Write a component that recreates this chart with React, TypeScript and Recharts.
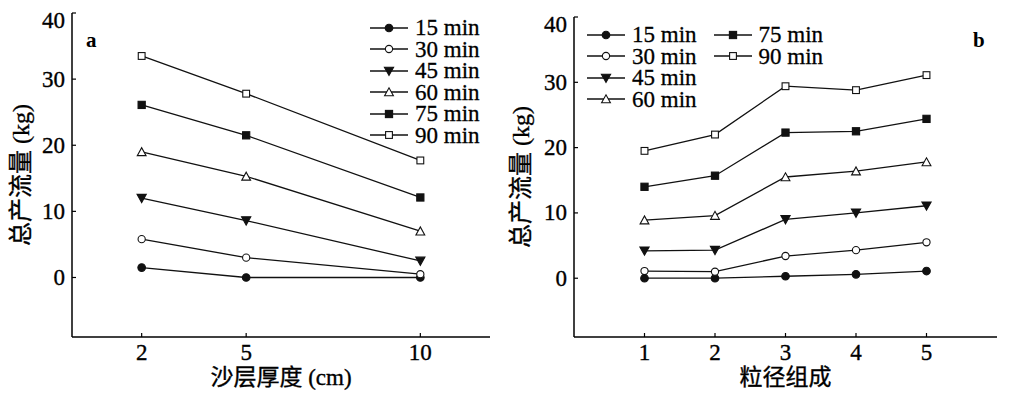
import React from "react";
import { LineChart, Line, XAxis, YAxis, Legend } from "recharts";

// series labels (shared by both panels)
const seriesNames = ["15 min", "30 min", "45 min", "60 min", "75 min", "90 min"];

// panel a: sand layer thickness (cm)
const thickness = [2, 5, 10];
const a15 = [1.5, 0, 0];
const a30 = [5.8, 3.0, 0.5];
const a45 = [12.0, 8.6, 2.5];
const a60 = [19.0, 15.3, 7.0];
const a75 = [26.1, 21.5, 12.1];
const a90 = [33.5, 27.8, 17.7];

// panel b: particle size composition
const grades = [1, 2, 3, 4, 5];
const b15 = [0.0, 0.0, 0.3, 0.6, 1.1];
const b30 = [1.1, 1.0, 3.4, 4.3, 5.5];
const b45 = [4.2, 4.3, 9.0, 10.0, 11.1];
const b60 = [8.9, 9.6, 15.5, 16.4, 17.8];
const b75 = [14.0, 15.7, 22.3, 22.5, 24.4];
const b90 = [19.5, 22.0, 29.4, 28.8, 31.1];

const yTicks = [0, 10, 20, 30, 40];
const thicknessTicks = [2, 5, 10];

const FONT = '"Liberation Serif", "Times New Roman", Times, "Noto Sans CJK SC", serif';
const INK = "#111";
const markerKinds = ["dotFilled", "dotOpen", "triDown", "triUp", "sqFilled", "sqOpen"];

const buildRows = (xs: number[], cols: number[][]) =>
  xs.map((x, i) => {
    const row: Record<string, number> = { x };
    cols.forEach((c, k) => (row["s" + k] = c[i]));
    return row;
  });

const dataA = buildRows(thickness, [a15, a30, a45, a60, a75, a90]);
const dataB = buildRows(grades, [b15, b30, b45, b60, b75, b90]);

const Marker = ({ kind, cx, cy }: { kind: string; cx: number; cy: number }) => {
  const sw = 1.1;
  switch (kind) {
    case "dotFilled":
      return <circle cx={cx} cy={cy} r={3.8} fill={INK} stroke={INK} strokeWidth={sw} />;
    case "dotOpen":
      return <circle cx={cx} cy={cy} r={3.6} fill="#fff" stroke={INK} strokeWidth={sw} />;
    case "triDown":
      return <path d={`M${cx - 4.6},${cy - 3.8}L${cx + 4.6},${cy - 3.8}L${cx},${cy + 4.4}Z`} fill={INK} stroke={INK} strokeWidth={sw} />;
    case "triUp":
      return <path d={`M${cx - 4.4},${cy + 3.8}L${cx + 4.4},${cy + 3.8}L${cx},${cy - 4.2}Z`} fill="#fff" stroke={INK} strokeWidth={sw} />;
    case "sqFilled":
      return <rect x={cx - 3.6} y={cy - 3.6} width={7.2} height={7.2} fill={INK} stroke={INK} strokeWidth={sw} />;
    default:
      return <rect x={cx - 3.4} y={cy - 3.4} width={6.8} height={6.8} fill="#fff" stroke={INK} strokeWidth={sw} />;
  }
};

const TICK_GAP = 7;
// the scanned figure has heavy type, so give svg text a hairline stroke
const textProps = { fontFamily: FONT, fontSize: 23, fill: "#000", stroke: "#000", strokeWidth: 0.35 };

const YTick = (props: any) => {
  const { x, y, payload } = props;
  const ax = x + TICK_GAP;
  const shift = payload.value === 40 ? 7 : 0;
  return (
    <g>
      <line x1={ax} x2={ax + 4} y1={y} y2={y} stroke="#000" strokeWidth={1.2} />
      <text x={x} y={y + 7.5 + shift} textAnchor="end" {...textProps}>
        {payload.value}
      </text>
    </g>
  );
};

const XTick = (props: any) => {
  const { x, y, payload } = props;
  const ay = y - TICK_GAP;
  return (
    <g>
      <line x1={x} x2={x} y1={ay} y2={ay - 4} stroke="#000" strokeWidth={1.2} />
      <text x={x} y={ay + 23} textAnchor="middle" {...textProps}>
        {payload.value}
      </text>
    </g>
  );
};

const yLabel = (dx: number) => (p: any) => {
  const vb = p.viewBox;
  const cx = vb.x + dx;
  const cy = vb.y + vb.height / 2;
  return (
    <text x={cx} y={cy} transform={`rotate(-90, ${cx}, ${cy})`} textAnchor="middle" dominantBaseline="central" {...textProps} fontSize={24}>
      总产流量 (kg)
    </text>
  );
};

const xLabel = (text: string) => (p: any) => {
  const vb = p.viewBox;
  return (
    <text x={vb.x + vb.width / 2} y={vb.y + 48} textAnchor="middle" {...textProps}>
      {text}
    </text>
  );
};

const LegendBox = ({ rows }: { rows: number }) => (
  <div
    style={{
      display: "grid",
      gridAutoFlow: "column",
      gridTemplateRows: `repeat(${rows}, 21.5px)`,
      columnGap: 17,
      fontFamily: FONT,
      fontSize: 23,
      color: "#000",
      WebkitTextStroke: "0.3px #000",
    }}
  >
    {seriesNames.map((name, i) => (
      <div key={name} style={{ display: "flex", alignItems: "center", height: 21.5, lineHeight: "21.5px" }}>
        <svg width={38} height={14} style={{ flex: "none" }}>
          <line x1={0} x2={38} y1={7} y2={7} stroke={INK} strokeWidth={1.3} />
          <Marker kind={markerKinds[i]} cx={19} cy={7} />
        </svg>
        <span style={{ marginLeft: 7, whiteSpace: "nowrap" }}>{name}</span>
      </div>
    ))}
  </div>
);

const Panel = ({
  data,
  width,
  left,
  top,
  yWidth,
  right,
  domain,
  ticks,
  xText,
  letter,
  letterX,
  legendRows,
  legendPos,
  rightStroke,
}: any) => (
  <div style={{ position: "absolute", left, top: 0 }}>
    <LineChart width={width} height={399} data={data} margin={{ top, right, left: 0, bottom: 0 }}>
      <XAxis
        dataKey="x"
        type="number"
        domain={domain}
        ticks={ticks}
        tickSize={0}
        tickMargin={TICK_GAP}
        tickLine={false}
        tick={<XTick />}
        height={62}
        axisLine={{ stroke: "#000", strokeWidth: 1.5 }}
        label={{ content: xLabel(xText) }}
      />
      <XAxis xAxisId="top" orientation="top" type="number" domain={domain} tick={false} tickLine={false} height={0} axisLine={{ stroke: "#000", strokeWidth: 1.8 }} />
      <YAxis
        type="number"
        domain={[-9, 40]}
        ticks={yTicks}
        tickSize={0}
        tickMargin={TICK_GAP}
        tickLine={false}
        tick={<YTick />}
        width={yWidth}
        axisLine={{ stroke: "#000", strokeWidth: 1.5 }}
        label={{ content: yLabel(21) }}
      />
      <YAxis yAxisId="right" orientation="right" type="number" domain={[-9, 40]} tick={false} tickLine={false} width={0} axisLine={{ stroke: "#000", strokeWidth: rightStroke }} />
      <Legend
        layout="horizontal"
        verticalAlign="middle"
        align="center"
        content={() => <LegendBox rows={legendRows} />}
        wrapperStyle={{ left: legendPos[0], top: legendPos[1], width: "auto" }}
      />
      {seriesNames.map((name, k) => (
        <Line
          key={name}
          name={name}
          dataKey={"s" + k}
          stroke={INK}
          strokeWidth={1.3}
          isAnimationActive={false}
          dot={(p: any) => <Marker key={p.index} kind={markerKinds[k]} cx={p.cx} cy={p.cy} />}
          activeDot={false}
        />
      ))}
    </LineChart>
    <div style={{ position: "absolute", left: letterX, top: 28, fontFamily: FONT, fontSize: 21, fontWeight: "bold", lineHeight: "24px" }}>
      {letter}
    </div>
  </div>
);

export default function App() {
  return (
    <div style={{ position: "absolute", left: 0, top: 0, width: 1009, height: 399, background: "#fff" }}>
      <Panel
        data={dataA}
        width={500}
        left={0}
        top={13}
        yWidth={72}
        right={10}
        domain={[0, 12]}
        ticks={thicknessTicks}
        xText="沙层厚度 (cm)"
        letter="a"
        letterX={86}
        legendRows={6}
        legendPos={[370, 17]}
        rightStroke={1.5}
      />
      <Panel
        data={dataB}
        width={509}
        left={500}
        top={17}
        yWidth={74}
        right={12}
        domain={[0, 6]}
        ticks={grades}
        xText="粒径组成"
        letter="b"
        letterX={473}
        legendRows={4}
        legendPos={[87, 24]}
        rightStroke={3}
      />
    </div>
  );
}
